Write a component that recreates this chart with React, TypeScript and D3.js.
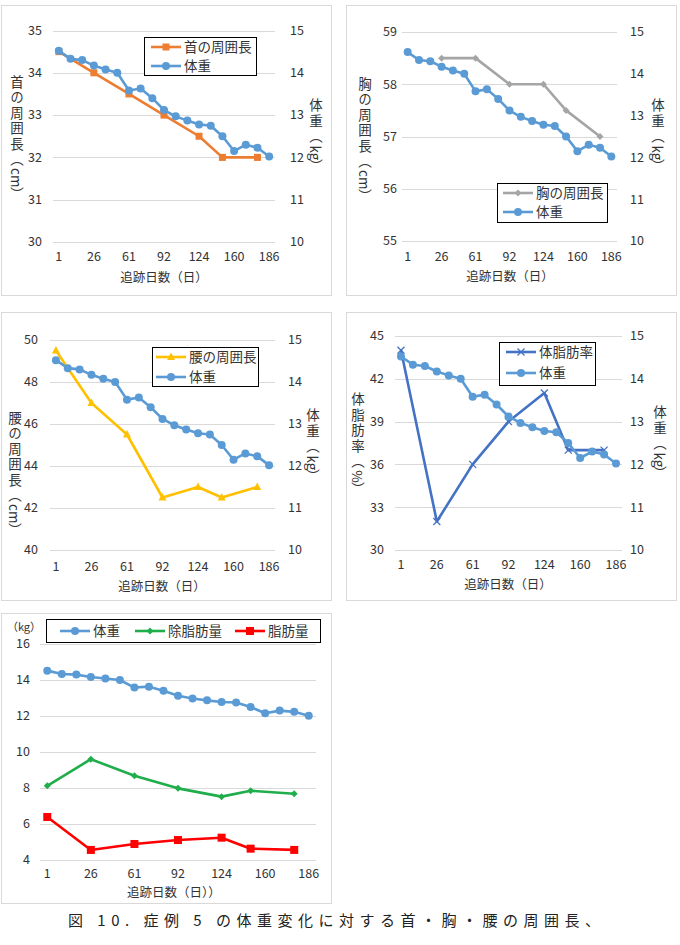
import * as d3 from 'd3';
import * as React from 'react';

// 19 measurement points, only every third is labelled on the axis
const dayLabels = ['1', '', '', '26', '', '', '61', '', '', '92', '', '', '124', '', '', '160', '', '', '186'];

const weight = [14.52, 14.33, 14.3, 14.17, 14.08, 14.0, 13.58, 13.63, 13.4, 13.12, 12.97, 12.87, 12.78, 12.75, 12.5, 12.15, 12.3, 12.23, 12.02];
const neck = [34.5, null, null, 34, null, null, 33.5, null, null, 33, null, null, 32.5, null, 32, null, null, 32, null];
const chest = [null, null, null, 58.5, null, null, 58.5, null, null, 58, null, null, 58, null, 57.5, null, null, 57, null];
const waist = [49.5, null, null, 47, null, null, 45.5, null, null, 42.5, null, null, 43, null, 42.5, null, null, 43, null];
const bodyFatPct = [44, null, null, 32, null, null, 36, null, null, 39, null, null, 41, null, 37, null, null, 37, null];
const leanMass = [8.12, null, null, 9.6, null, null, 8.68, null, null, 7.98, null, null, 7.52, null, 7.85, null, null, 7.68, null];
const fatMass = [6.39, null, null, 4.56, null, null, 4.89, null, null, 5.11, null, null, 5.24, null, 4.63, null, null, 4.56, null];

const neckTicks = [30, 31, 32, 33, 34, 35];
const chestTicks = [55, 56, 57, 58, 59];
const waistTicks = [40, 42, 44, 46, 48, 50];
const fatPctTicks = [30, 33, 36, 39, 42, 45];
const weightTicks = [10, 11, 12, 13, 14, 15];
const massTicks = [4, 6, 8, 10, 12, 14, 16];

const FONT = "'Noto Sans CJK JP', 'Noto Sans', sans-serif";
const TEXT = '#333';
const GRID = '#d9d9d9';

type MarkerKind = 'circle' | 'square' | 'diamond' | 'triangle' | 'x';

type Series = {
  name: string;
  values: (number | null)[];
  color: string;
  marker: MarkerKind;
  size: number;
  axis: 'left' | 'right';
};

const Marker = ({ kind, x, y, size, color }: { kind: MarkerKind; x: number; y: number; size: number; color: string }) => {
  const h = size / 2;
  if (kind === 'circle') return <circle cx={x} cy={y} r={h} fill={color} />;
  if (kind === 'square') return <rect x={x - h} y={y - h} width={size} height={size} fill={color} />;
  if (kind === 'diamond')
    return <path d={`M${x},${y - h}L${x + h},${y}L${x},${y + h}L${x - h},${y}Z`} fill={color} />;
  if (kind === 'triangle')
    return <path d={`M${x},${y - h * 1.15}L${x + h},${y + h * 0.75}L${x - h},${y + h * 0.75}Z`} fill={color} />;
  return (
    <path d={`M${x - h},${y - h}L${x + h},${y + h}M${x + h},${y - h}L${x - h},${y + h}`} stroke={color} strokeWidth={1.3} fill="none" />
  );
};

type VTitle = { main: string; unit: string; x: number; y: number };

const VerticalTitle = ({ t }: { t: VTitle }) => (
  <text x={t.x} y={t.y} textAnchor="middle" fontSize={13.5} fill={TEXT} style={{ writingMode: 'vertical-rl' }}>
    <tspan letterSpacing={2}>{t.main}（</tspan>
    <tspan letterSpacing={0}>{t.unit}</tspan>
    <tspan>）</tspan>
  </text>
);

type PanelProps = {
  box: [number, number, number, number];
  plot: { x0: number; x1: number; top: number; bottom: number };
  leftTicks: number[];
  rightTicks?: number[];
  series: Series[];
  legend: { x: number; y: number; w: number; h: number; items: { lx: number; ly: number }[] };
  leftTitle?: VTitle;
  rightTitle?: VTitle;
  leftLabelX: number;
  rightLabelX?: number;
  xLabelY: number;
  xTitle: { text: string; x: number; y: number };
  tickSize?: number;
};

const Panel = (p: PanelProps) => {
  const xScale = d3.scaleBand<number>().domain(d3.range(dayLabels.length)).range([p.plot.x0, p.plot.x1]);
  const cx = (i: number) => (xScale(i) ?? 0) + xScale.bandwidth() / 2;
  const yLeft = d3
    .scaleLinear()
    .domain(d3.extent(p.leftTicks) as [number, number])
    .range([p.plot.bottom, p.plot.top]);
  const yRight = p.rightTicks
    ? d3.scaleLinear().domain(d3.extent(p.rightTicks) as [number, number]).range([p.plot.bottom, p.plot.top])
    : yLeft;
  const fs = p.tickSize ?? 12.5;

  const lineGen = d3
    .line<{ i: number; v: number }>()
    .x((d) => cx(d.i))
    .y((d) => d.v);

  return (
    <g fontFamily={FONT}>
      <rect x={p.box[0] + 0.5} y={p.box[1] + 0.5} width={p.box[2]} height={p.box[3]} fill="#fff" stroke={GRID} />
      {p.leftTicks.map((t) => (
        <g key={t}>
          <line x1={p.plot.x0} x2={p.plot.x1} y1={Math.round(yLeft(t)) + 0.5} y2={Math.round(yLeft(t)) + 0.5} stroke={GRID} />
          <text x={p.leftLabelX} y={yLeft(t)} dy="0.35em" textAnchor="end" fontSize={fs} fill={TEXT}>
            {t}
          </text>
        </g>
      ))}
      {p.rightTicks &&
        p.rightTicks.map((t) => (
          <text key={t} x={p.rightLabelX} y={yRight(t)} dy="0.35em" fontSize={fs} fill={TEXT}>
            {t}
          </text>
        ))}
      {dayLabels.map((l, i) =>
        l ? (
          <text key={i} x={cx(i)} y={p.xLabelY} dy="0.35em" textAnchor="middle" fontSize={fs} fill={TEXT}>
            {l}
          </text>
        ) : null,
      )}
      <text x={p.xTitle.x} y={p.xTitle.y} dy="0.35em" textAnchor="middle" fontSize={12.5} fill={TEXT}>
        {p.xTitle.text}
      </text>
      {p.leftTitle && <VerticalTitle t={p.leftTitle} />}
      {p.rightTitle && <VerticalTitle t={p.rightTitle} />}
      {p.series.map((s) => {
        const y = s.axis === 'right' ? yRight : yLeft;
        const pts = s.values
          .map((v, i) => ({ i, v }))
          .filter((d) => d.v !== null)
          .map((d) => ({ i: d.i, v: y(d.v as number) }));
        return (
          <g key={s.name}>
            <path d={lineGen(pts) ?? ''} fill="none" stroke={s.color} strokeWidth={2.6} strokeLinejoin="round" />
            {pts.map((d) => (
              <Marker key={d.i} kind={s.marker} x={cx(d.i)} y={d.v} size={s.size} color={s.color} />
            ))}
          </g>
        );
      })}
      <rect x={p.legend.x + 0.5} y={p.legend.y + 0.5} width={p.legend.w} height={p.legend.h} fill="#fff" stroke="#000" />
      {p.series.map((s, k) => {
        const it = p.legend.items[k];
        return (
          <g key={s.name}>
            <line x1={it.lx} x2={it.lx + 30} y1={it.ly} y2={it.ly} stroke={s.color} strokeWidth={2.6} />
            <Marker kind={s.marker} x={it.lx + 15} y={it.ly} size={s.size} color={s.color} />
            <text x={it.lx + 33} y={it.ly} dy="0.36em" fontSize={13.5} fill={TEXT}>
              {s.name}
            </text>
          </g>
        );
      })}
    </g>
  );
};

const weightSeries = (color: string, axis: 'left' | 'right'): Series => ({
  name: '体重',
  values: weight,
  color,
  marker: 'circle',
  size: 8,
  axis,
});

export default function App() {
  return (
    <div style={{ position: 'absolute', left: 0, top: 0 }}>
      <svg width={680} height={945} style={{ display: 'block', background: '#fff' }}>
        <Panel
          box={[1, 5, 330, 290]}
          plot={{ x0: 53, x1: 275, top: 30.5, bottom: 242 }}
          leftTicks={neckTicks}
          rightTicks={weightTicks}
          series={[
            { name: '首の周囲長', values: neck, color: '#ed7d31', marker: 'square', size: 7, axis: 'left' },
            weightSeries('#5b9bd5', 'right'),
          ]}
          legend={{ x: 144, y: 37, w: 112, h: 38, items: [{ lx: 151, ly: 47 }, { lx: 151, ly: 66 }] }}
          leftTitle={{ main: '首の周囲長', unit: 'cm', x: 17, y: 138 }}
          rightTitle={{ main: '体重', unit: 'kg', x: 316, y: 136 }}
          leftLabelX={42}
          rightLabelX={290}
          xLabelY={257}
          xTitle={{ text: '追跡日数（日）', x: 164, y: 278 }}
        />
        <Panel
          box={[346, 5, 330, 290]}
          plot={{ x0: 402, x1: 617, top: 32, bottom: 241 }}
          leftTicks={chestTicks}
          rightTicks={weightTicks}
          series={[
            { name: '胸の周囲長', values: chest, color: '#a5a5a5', marker: 'diamond', size: 7, axis: 'left' },
            weightSeries('#5b9bd5', 'right'),
          ]}
          legend={{ x: 497, y: 183, w: 110, h: 39, items: [{ lx: 503, ly: 193 }, { lx: 503, ly: 212 }] }}
          leftTitle={{ main: '胸の周囲長', unit: 'cm', x: 365, y: 140 }}
          rightTitle={{ main: '体重', unit: 'kg', x: 658, y: 136 }}
          leftLabelX={397}
          rightLabelX={630}
          xLabelY={257}
          xTitle={{ text: '追跡日数（日）', x: 510, y: 277 }}
        />
        <Panel
          box={[1, 312, 330, 288]}
          plot={{ x0: 50, x1: 275, top: 340, bottom: 550 }}
          leftTicks={waistTicks}
          rightTicks={weightTicks}
          series={[
            { name: '腰の周囲長', values: waist, color: '#ffc000', marker: 'triangle', size: 8, axis: 'left' },
            weightSeries('#5b9bd5', 'right'),
          ]}
          legend={{ x: 152, y: 347, w: 106, h: 39, items: [{ lx: 156, ly: 357 }, { lx: 156, ly: 377 }] }}
          leftTitle={{ main: '腰の周囲長', unit: 'cm', x: 15, y: 474 }}
          rightTitle={{ main: '体重', unit: 'kg', x: 313, y: 446 }}
          leftLabelX={38}
          rightLabelX={288}
          xLabelY={567}
          xTitle={{ text: '追跡日数（日）', x: 162, y: 587 }}
        />
        <Panel
          box={[346, 312, 330, 288]}
          plot={{ x0: 395, x1: 622, top: 336, bottom: 550 }}
          leftTicks={fatPctTicks}
          rightTicks={weightTicks}
          series={[
            { name: '体脂肪率', values: bodyFatPct, color: '#4472c4', marker: 'x', size: 7, axis: 'left' },
            weightSeries('#5b9bd5', 'right'),
          ]}
          legend={{ x: 499, y: 342, w: 96, h: 43, items: [{ lx: 506, ly: 352 }, { lx: 506, ly: 373 }] }}
          leftTitle={{ main: '体脂肪率', unit: '%', x: 358, y: 444 }}
          rightTitle={{ main: '体重', unit: 'kg', x: 660, y: 443 }}
          leftLabelX={384}
          rightLabelX={630}
          xLabelY={565}
          xTitle={{ text: '追跡日数（日）', x: 508, y: 585 }}
        />
        <Panel
          box={[1, 613, 330, 290]}
          plot={{ x0: 40, x1: 316, top: 644, bottom: 860 }}
          leftTicks={massTicks}
          series={[
            weightSeries('#5b9bd5', 'left'),
            { name: '除脂肪量', values: leanMass, color: '#1fae4b', marker: 'diamond', size: 7, axis: 'left' },
            { name: '脂肪量', values: fatMass, color: '#ff0000', marker: 'square', size: 8, axis: 'left' },
          ]}
          legend={{
            x: 46,
            y: 619,
            w: 274,
            h: 23,
            items: [
              { lx: 60, ly: 631 },
              { lx: 135, ly: 631 },
              { lx: 235, ly: 631 },
            ],
          }}
          leftLabelX={30}
          xLabelY={874}
          xTitle={{ text: '追跡日数（日））', x: 174, y: 893 }}
          tickSize={12.5}
        />
        <text x={24} y={627} dy="0.35em" textAnchor="middle" fontFamily={FONT} fontSize={11} fill={TEXT}>
          （kg）
        </text>
        <text
          x={68}
          y={920}
          dy="0.38em"
          fontFamily={FONT}
          fontSize={15}
          fill="#222"
          textLength={532}
          lengthAdjust="spacing"
        >
          図 10. 症例 5 の体重変化に対する首・胸・腰の周囲長、
        </text>
      </svg>
    </div>
  );
}
